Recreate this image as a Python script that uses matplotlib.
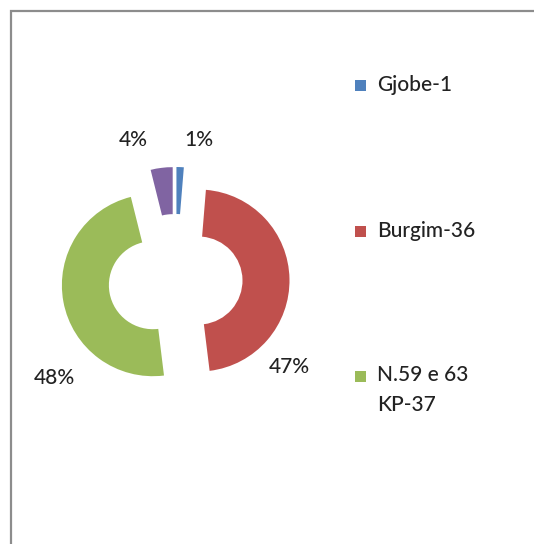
import matplotlib
matplotlib.use("Agg")
import matplotlib.pyplot as plt
from matplotlib.patches import Rectangle

# data
labels = ['Gjobe-1', 'Burgim-36', 'N.59 e 63\nKP-37', '']
counts = [1, 36, 37, 3]
colors = ['#4F81BD', '#C0504D', '#9BBB59', '#8064A2']

W, H = 534, 544
plt.rcParams['font.family'] = ['Lato', 'DejaVu Sans']
txt_color = '#222222'

fig = plt.figure(figsize=(W / 100, H / 100), dpi=100)
ax = fig.add_axes([0, 0, 1, 1])

# donut, every slice pulled out a little
cx, cy, r = 175.5, H - 281, 91
wedges, _ = ax.pie(counts, colors=colors, startangle=90, counterclock=False,
                   center=(cx, cy), radius=r, explode=[23] * len(counts),
                   wedgeprops=dict(width=47, linewidth=0),
                   frame=True)
ax.set_xlim(0, W)
ax.set_ylim(0, H)
ax.set_aspect('equal')
ax.axis('off')

# chart frame (left/top visible, rest runs off the image)
ax.add_patch(Rectangle((11, -20), W + 20, H - 11 + 20, fill=False,
                       edgecolor='#8c8c8c', linewidth=1.6))

# percentage labels
total = sum(counts)
pct_pos = [(199, 140), (289, 367), (54, 378), (133, 140)]
for c, (px, py) in zip(counts, pct_pos):
    ax.text(px, H - py, '{:.0f}%'.format(100 * c / total), ha='center',
            va='center', fontsize=15, color=txt_color, fontweight='medium')

# legend (entries spread down the right side)
leg_y = [85, 231, 376]
for lab, col, y in zip(labels, colors, leg_y):
    if not lab:
        continue
    ax.add_patch(Rectangle((355, H - y - 5.5), 11, 11, color=col, linewidth=0))
    ax.text(377, H - y + 11 if '\n' in lab else H - y, lab, ha='left',
            va='top' if '\n' in lab else 'center', fontweight='medium',
            fontsize=15, color=txt_color, linespacing=1.65)

fig.savefig('out.png', dpi=100)
